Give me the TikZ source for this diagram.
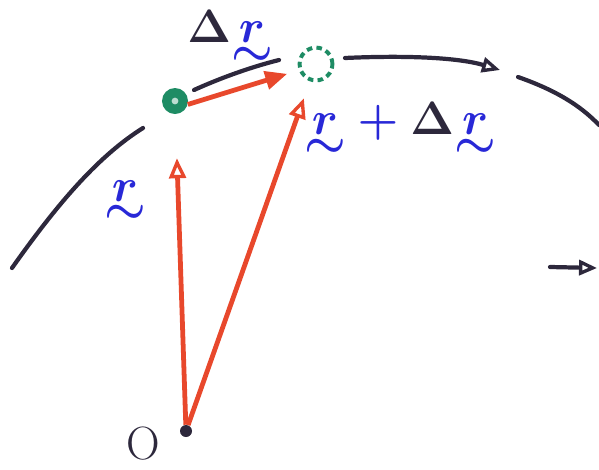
\documentclass[tikz,border=0pt]{standalone}
\usepackage{amsmath}
\usetikzlibrary{arrows.meta}
\definecolor{penred}{RGB}{232,72,44}
\definecolor{pengreen}{RGB}{30,140,100}
\definecolor{penblue}{RGB}{40,40,215}
\definecolor{penblack}{RGB}{45,40,60}
\newcommand{\tilder}{\vtop{\offinterlineskip\halign{\hfil##\hfil\cr
  $r$\cr\noalign{\kern2pt}$\sim$\cr}}}
\begin{document}
\begin{tikzpicture}[x=0.025cm,y=-0.025cm,
  vec/.style={penred,line width=3.4pt,
    -{Triangle[open,length=0.5cm,width=0.42cm,line width=2.4pt]}},
  traj/.style={penblack,line width=3pt,line cap=round},
  trajtip/.style={-{Triangle[open,length=0.45cm,width=0.38cm,line width=2.4pt]}},
  lab/.style={font=\huge\boldmath,scale=1.6,text=penblue}]
\useasboundingbox (0,0) rectangle (599,469);
\node[circle,fill=penblack,inner sep=0pt,minimum size=0.3cm] (O) at (186,431) {};
\node[circle,fill=pengreen,inner sep=0pt,minimum size=0.65cm] (P) at (175,101) {};
\fill[pengreen!30!white] (P.center) circle (2.4pt);
\node[circle,draw=pengreen,line width=2.8pt,dash pattern=on 4pt off 3pt,
  inner sep=0pt,minimum size=0.82cm] (Q) at (316,64) {};
% trajectory
\draw[traj] (12,268) .. controls (60,200) and (100,155) .. (143,128);
\draw[traj] (194,90) .. controls (225,76) and (255,66) .. (279,60);
\draw[traj,trajtip] (345,58) .. controls (410,55) and (460,58) .. (500,70);
\draw[traj] (518,77) .. controls (555,90) and (580,105) .. (599,125);
\draw[traj,trajtip] (550,267) -- (597,268);
% vectors
\draw[vec,shorten >=1.1cm] (O) -- (P);
\draw[vec,shorten >=0.45cm] (O) -- (Q);
\draw[vec,-{Triangle[length=0.55cm,width=0.45cm]},shorten >=0.3cm] (P.-15) -- (Q.200);
% labels
\node[lab] (dr) at (230,38) {$\textcolor{penblack}{\Delta}\tilder$};
\node[lab] (rdr) at (400,130) {$\tilder+\textcolor{penblack}{\Delta}\tilder$};
\node[lab] (r) at (125,202) {$\tilder$};
\node[lab,text=penblack] (o) at (143,444) {O};
\end{tikzpicture}
\end{document}
